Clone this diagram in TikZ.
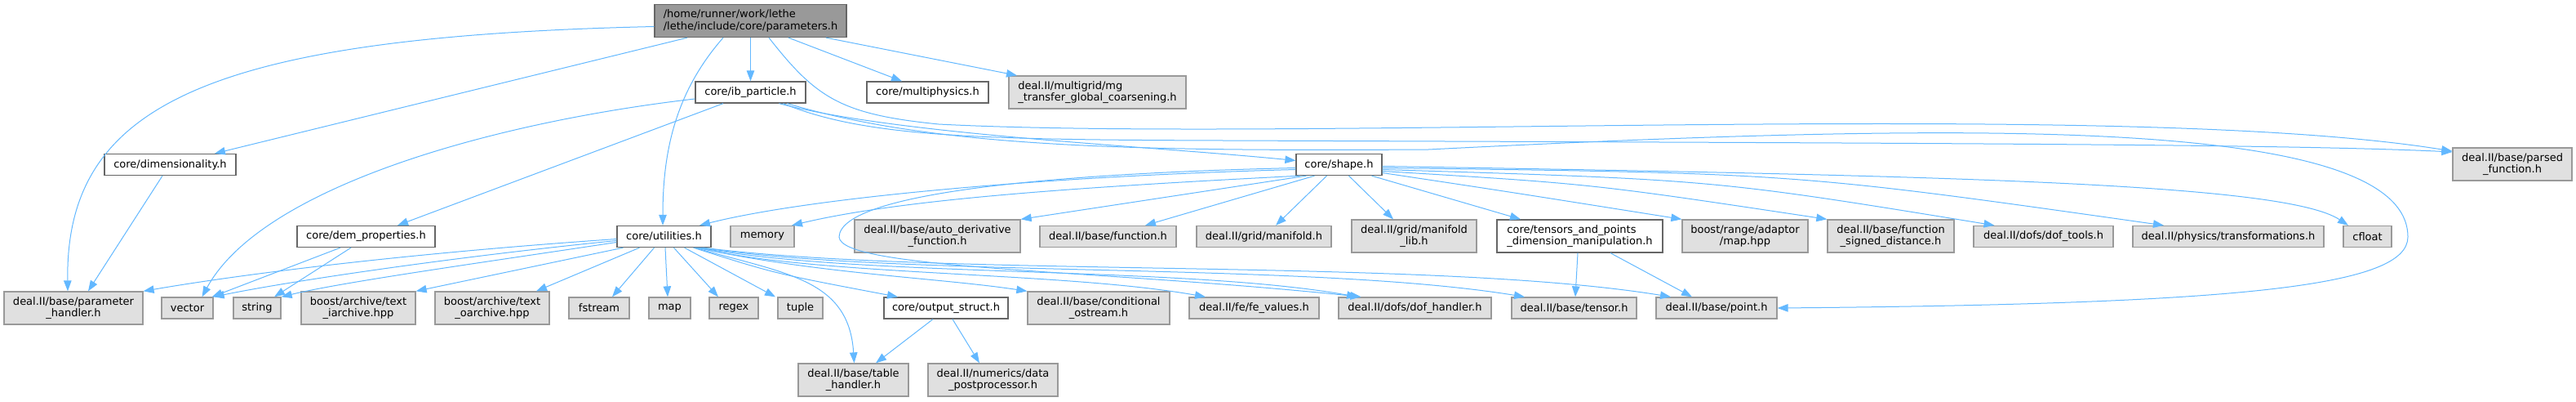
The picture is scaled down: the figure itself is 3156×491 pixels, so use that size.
\documentclass[tikz,border=0pt]{standalone}
\usepackage{fontspec}
\setmainfont{DejaVu Sans}
\usetikzlibrary{arrows.meta}
\definecolor{EdgeBlue}{HTML}{63B8FF}
\definecolor{ExtGray}{HTML}{E0E0E0}
\definecolor{ExtLine}{HTML}{999999}
\definecolor{HdrLine}{HTML}{666666}
\definecolor{RootGray}{HTML}{999999}

\begin{document}
\begin{tikzpicture}[
  x=1pt, y=-1pt,
  every node/.style={font=\fontsize{13}{14.5}\selectfont, align=center, inner sep=0pt, minimum height=26pt},
  hdrbox/.style={draw=HdrLine, fill=white, line width=1.3pt},
  extbox/.style={draw=ExtLine, fill=ExtGray, line width=1.3pt},
  rootbox/.style={draw=HdrLine, fill=RootGray, line width=1.3pt, align=left},
  tall/.style={minimum height=40pt},
  inc/.style={-{Triangle[length=13pt, width=9.5pt]}, draw=EdgeBlue, line width=1pt}
]
\useasboundingbox (0,0) rectangle (3156,491);

% rank 0 and 1
\node[rootbox, minimum width=235pt, tall] (params) at (919.5,25.5) {/home/runner/work/lethe\\/lethe/include/core/parameters.h};
\node[hdrbox, minimum width=135pt] (ibpart) at (919.5,113) {core/ib\_particle.h};
\node[hdrbox, minimum width=149pt] (multiphys) at (1136.5,113) {core/multiphysics.h};
\node[extbox, minimum width=217pt, tall, align=left] (mgtransfer) at (1344.5,113) {deal.II/multigrid/mg\\\_transfer\_global\_coarsening.h};

% rank 2
\node[hdrbox, minimum width=161pt] (dimens) at (208.5,201.5) {core/dimensionality.h};
\node[hdrbox, minimum width=105pt] (shape) at (1640.5,201.5) {core/shape.h};
\node[extbox, minimum width=146pt, tall] (parsedfn) at (3078,201) {deal.II/base/parsed\\\_function.h};

% rank 3
\node[hdrbox, minimum width=169pt] (demprops) at (448.5,289.5) {core/dem\_properties.h};
\node[hdrbox, minimum width=115pt] (utilities) at (813.5,289.5) {core/utilities.h};
\node[extbox, minimum width=78pt] (memory) at (934,289.5) {memory};
\node[extbox, minimum width=203pt, tall] (autoderiv) at (1148.5,289) {deal.II/base/auto\_derivative\\\_function.h};
\node[extbox, minimum width=167pt] (function) at (1357.5,289.5) {deal.II/base/function.h};
\node[extbox, minimum width=165pt] (manifold) at (1548.5,289.5) {deal.II/grid/manifold.h};
\node[extbox, minimum width=153pt, tall] (manifoldlib) at (1732.5,289) {deal.II/grid/manifold\\\_lib.h};
\node[hdrbox, minimum width=203pt, tall, align=left] (tensorspts) at (1935.5,289) {core/tensors\_and\_points\\\_dimension\_manipulation.h};
\node[extbox, minimum width=154pt, tall] (boostmap) at (2138,289) {boost/range/adaptor\\/map.hpp};
\node[extbox, minimum width=155pt, tall] (fnsigned) at (2316.5,289) {deal.II/base/function\\\_signed\_distance.h};
\node[extbox, minimum width=171pt] (doftools) at (2503.5,289.5) {deal.II/dofs/dof\_tools.h};
\node[extbox, minimum width=234pt] (transforms) at (2730,289.5) {deal.II/physics/transformations.h};
\node[extbox, minimum width=59pt] (cfloat) at (2900.5,289.5) {cfloat};

% rank 4
\node[extbox, minimum width=170pt, tall] (phandler) at (90,377) {deal.II/base/parameter\\\_handler.h};
\node[extbox, minimum width=63pt] (vector) at (229.5,377) {vector};
\node[extbox, minimum width=58pt] (string) at (315,377) {string};
\node[extbox, minimum width=140pt, tall] (iarchive) at (439,377) {boost/archive/text\\\_iarchive.hpp};
\node[extbox, minimum width=140pt, tall] (oarchive) at (603,377) {boost/archive/text\\\_oarchive.hpp};
\node[extbox, minimum width=74pt] (fstream) at (734,377) {fstream};
\node[extbox, minimum width=51pt] (map) at (820.5,377) {map};
\node[extbox, minimum width=60pt] (regex) at (899,377) {regex};
\node[extbox, minimum width=55pt] (tuple) at (980.5,377) {tuple};
\node[hdrbox, minimum width=152pt] (outstruct) at (1159,377) {core/output\_struct.h};
\node[extbox, minimum width=174pt, tall] (condostream) at (1346,377) {deal.II/base/conditional\\\_ostream.h};
\node[extbox, minimum width=159pt] (fevalues) at (1536.5,377) {deal.II/fe/fe\_values.h};
\node[extbox, minimum width=187pt] (dofhandler) at (1733.5,377) {deal.II/dofs/dof\_handler.h};
\node[extbox, minimum width=153pt] (tensor) at (1928.5,377) {deal.II/base/tensor.h};
\node[extbox, minimum width=148pt] (point) at (2103,377) {deal.II/base/point.h};

% rank 5
\node[extbox, minimum width=135pt, tall] (tablehandler) at (1045.5,465) {deal.II/base/table\\\_handler.h};
\node[extbox, minimum width=159pt, tall] (datapost) at (1216.5,465) {deal.II/numerics/data\\\_postprocessor.h};

% includes of parameters.h
\draw[inc] ([yshift=-7pt]params.west) .. controls (250,45) and (80,130) .. ([xshift=-7pt]phandler.north);
\draw[inc] ([xshift=-77.5pt]params.south) -- ([xshift=54.5pt]dimens.north);
\draw[inc] ([xshift=-33.5pt]params.south) .. controls (830,110) and (812,180) .. ([xshift=-1.5pt]utilities.north);
\draw[inc] (params.south) -- (ibpart.north);
\draw[inc] ([xshift=46.5pt]params.south) -- ([xshift=-31.5pt]multiphys.north);
\draw[inc] ([xshift=92.5pt]params.south) -- ([xshift=-98.5pt]mgtransfer.north);
\draw[inc] ([xshift=22.5pt]params.south) .. controls (1000,120) and (1030,140) .. (1150,152) .. controls (1600,175) and (2600,120) .. ([yshift=16pt]parsedfn.west);

% includes of ib_particle.h
\draw[inc] ([yshift=-8pt]ibpart.west) .. controls (600,150) and (320,230) .. ([xshift=18pt]vector.north);
\draw[inc] ([xshift=-33.5pt]ibpart.south) -- ([xshift=38.5pt]demprops.north);
\draw[inc] ([xshift=35pt]ibpart.south) .. controls (1100,165) and (1400,178) .. ([yshift=5pt]shape.west);
\draw[inc] ([xshift=40pt]ibpart.south) .. controls (1060,168) and (1200,171) .. (1500,172) .. controls (2300,175) and (2800,176) .. ([yshift=15pt]parsedfn.west);
\draw[inc] ([xshift=45pt]ibpart.south) .. controls (1150,182) and (1400,185) .. (1750,183) .. controls (2400,150) and (2950,140) .. (2950,290) .. controls (2950,350) and (2750,372) .. (point.east);

% includes of dimensionality.h and dem_properties.h
\draw[inc] ([xshift=-9.5pt]dimens.south) -- ([xshift=18pt]phandler.north);
\draw[inc] ([xshift=-31.5pt]demprops.south) -- ([xshift=-2pt]vector.north east);
\draw[inc] ([xshift=-18.5pt]demprops.south) -- ([xshift=21pt]string.north);

% includes of utilities.h
\draw[inc] ([yshift=-3pt]utilities.west) .. controls (500,310) and (300,335) .. (phandler.north east);
\draw[inc] ([yshift=-5pt]utilities.west) .. controls (550,315) and (350,345) .. (vector.north east);
\draw[inc] ([yshift=-7pt]utilities.west) .. controls (600,320) and (420,345) .. (string.north east);
\draw[inc] ([xshift=-50pt]utilities.south) -- (iarchive.north east);
\draw[inc] ([xshift=-30pt]utilities.south) -- ([xshift=54pt]oarchive.north);
\draw[inc] ([xshift=-12pt]utilities.south) -- ([xshift=16pt]fstream.north);
\draw[inc] ([xshift=1.5pt]utilities.south) -- ([xshift=-2.5pt]map.north);
\draw[inc] ([xshift=12pt]utilities.south) -- ([xshift=-19pt]regex.north);
\draw[inc] ([xshift=25pt]utilities.south) -- ([xshift=-30.5pt]tuple.north);
\draw[inc] ([xshift=36pt]utilities.south) .. controls (950,335) .. ([xshift=-59pt]outstruct.north);
\draw[inc] ([xshift=38pt]utilities.south) .. controls (960,335) and (1040,340) .. ([xshift=1pt]tablehandler.north);
\draw[inc] ([xshift=40pt]utilities.south) .. controls (1000,335) and (1150,340) .. (condostream.north west);
\draw[inc] ([xshift=42pt]utilities.south) .. controls (1000,338) and (1300,332) .. ([xshift=-59.5pt]fevalues.north);
\draw[inc] ([xshift=44pt]utilities.south) .. controls (1050,340) and (1450,325) .. ([xshift=-70.5pt]dofhandler.north);
\draw[inc] ([xshift=46pt]utilities.south) .. controls (1100,340) and (1600,320) .. ([xshift=-60.5pt]tensor.north);
\draw[inc] ([xshift=48pt]utilities.south) .. controls (1150,340) and (1750,315) .. ([xshift=-56pt]point.north);

% includes of shape.h
\draw[inc] ([yshift=-6pt]shape.west) .. controls (1300,215) and (1000,240) .. ([xshift=43.5pt]utilities.north);
\draw[inc] ([xshift=-48pt]shape.south) .. controls (1300,230) and (1100,245) .. ([xshift=36pt]memory.north);
\draw[inc] ([xshift=-40pt]shape.south) -- (autoderiv.north east);
\draw[inc] ([xshift=-30pt]shape.south) -- ([xshift=45.5pt]function.north);
\draw[inc] ([xshift=-15pt]shape.south) -- ([xshift=14.5pt]manifold.north);
\draw[inc] ([xshift=12pt]shape.south) -- ([xshift=-25.5pt]manifoldlib.north);
\draw[inc] ([xshift=40pt]shape.south) -- ([xshift=-72.5pt]tensorspts.north);
\draw[inc] ([yshift=-10pt]shape.east) .. controls (1850,235) .. (boostmap.north west);
\draw[inc] ([yshift=-8pt]shape.east) .. controls (1950,225) .. (fnsigned.north west);
\draw[inc] ([yshift=-6pt]shape.east) .. controls (2100,220) .. ([xshift=-60pt]doftools.north);
\draw[inc] ([yshift=-4pt]shape.east) .. controls (2200,212) .. ([xshift=-79pt]transforms.north);
\draw[inc] ([yshift=-2pt]shape.east) .. controls (2400,215) and (2800,225) .. ([xshift=-23.5pt]cfloat.north);
\draw[inc] ([yshift=-4pt]shape.west) .. controls (1300,212) and (1030,235) .. (1028,290) .. controls (1030,330) and (1350,330) .. ([xshift=-66pt]dofhandler.north);

% includes of tensors_and_points and output_struct
\draw[inc] ([xshift=-2.5pt]tensorspts.south) -- ([xshift=1.5pt]tensor.north);
\draw[inc] ([xshift=37.5pt]tensorspts.south) -- ([xshift=-30pt]point.north);
\draw[inc] ([xshift=-16pt]outstruct.south) -- ([xshift=27.5pt]tablehandler.north);
\draw[inc] ([xshift=8pt]outstruct.south) -- ([xshift=-16.5pt]datapost.north);
\end{tikzpicture}
\end{document}
